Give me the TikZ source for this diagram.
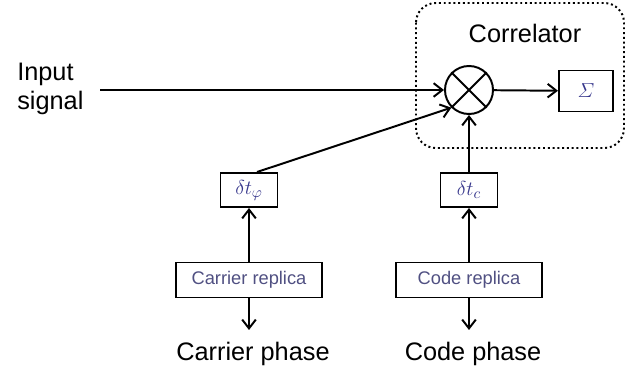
\documentclass[tikz,border=0pt]{standalone}
\usepackage[no-math]{fontspec}
\setmainfont{Liberation Sans}
\usetikzlibrary{arrows.meta, positioning}

\definecolor{symblue}{RGB}{55,55,140}
\definecolor{repblue}{RGB}{80,80,130}

\tikzset{
    blk/.style={draw=black, line width=1.4pt, inner sep=0pt},
    sig/.style={line width=1.4pt, -{Straight Barb[length=2.2mm,width=3.4mm]}},
    big/.style={font=\fontsize{18}{21}\selectfont},
}

\begin{document}
\begin{tikzpicture}[x=0.025cm, y=-0.025cm]
            \useasboundingbox (0,0) rectangle (644,379);

            % correlator: multiplier and summation
            \node[circle, blk, minimum size=1.2cm] (mult) at (469,90) {};
            \draw[line width=1.4pt] (mult.north west) -- (mult.south east)
                                    (mult.north east) -- (mult.south west);
            \node[blk, minimum width=1.35cm, minimum height=1.025cm, text=symblue,
                  font=\fontsize{15}{17}\selectfont] (sum) at (586,91) {$\mathnormal{\Sigma}$};
            \node[big] (corr) at (525,33) {Correlator};
            \draw[dotted, line width=1.4pt, rounded corners=14pt] (416,3) rectangle (624,148);

            \node[big, align=left, anchor=west, inner sep=0pt] (inp) at (17,89) {Input\\signal};
            \coordinate (insrc) at (100,90);

            % carrier and code branches
            \foreach \x/\n/\lbl/\sub in {249/carr/Carrier/\varphi, 469/code/Code/c}{
                \node[blk, minimum width=1.425cm, minimum height=0.85cm, text=symblue,
                      font=\fontsize{15}{17}\selectfont] (d\n) at (\x,190) {$\delta t_{\sub}$};
                \node[blk, minimum width=3.65cm, minimum height=0.875cm, text=repblue,
                      font=\fontsize{13}{15}\selectfont] (r\n) at (\x,280) {\lbl{} replica};
                \node[big] (p\n) at (\x+4,354) {\lbl{} phase};
                \coordinate (o\n) at (\x,330);
                \draw[sig] (r\n) -- (d\n);
                \draw[sig] (r\n.south) -- (o\n);
            }

            \draw[sig] (insrc) -- (mult.west);
            \draw[sig] ([xshift=0.2cm]dcarr.north) -- (mult.south west);
            \draw[sig] (dcode) -- (mult.south);
            \draw[sig] (mult) -- (sum);
        \end{tikzpicture}
\end{document}
